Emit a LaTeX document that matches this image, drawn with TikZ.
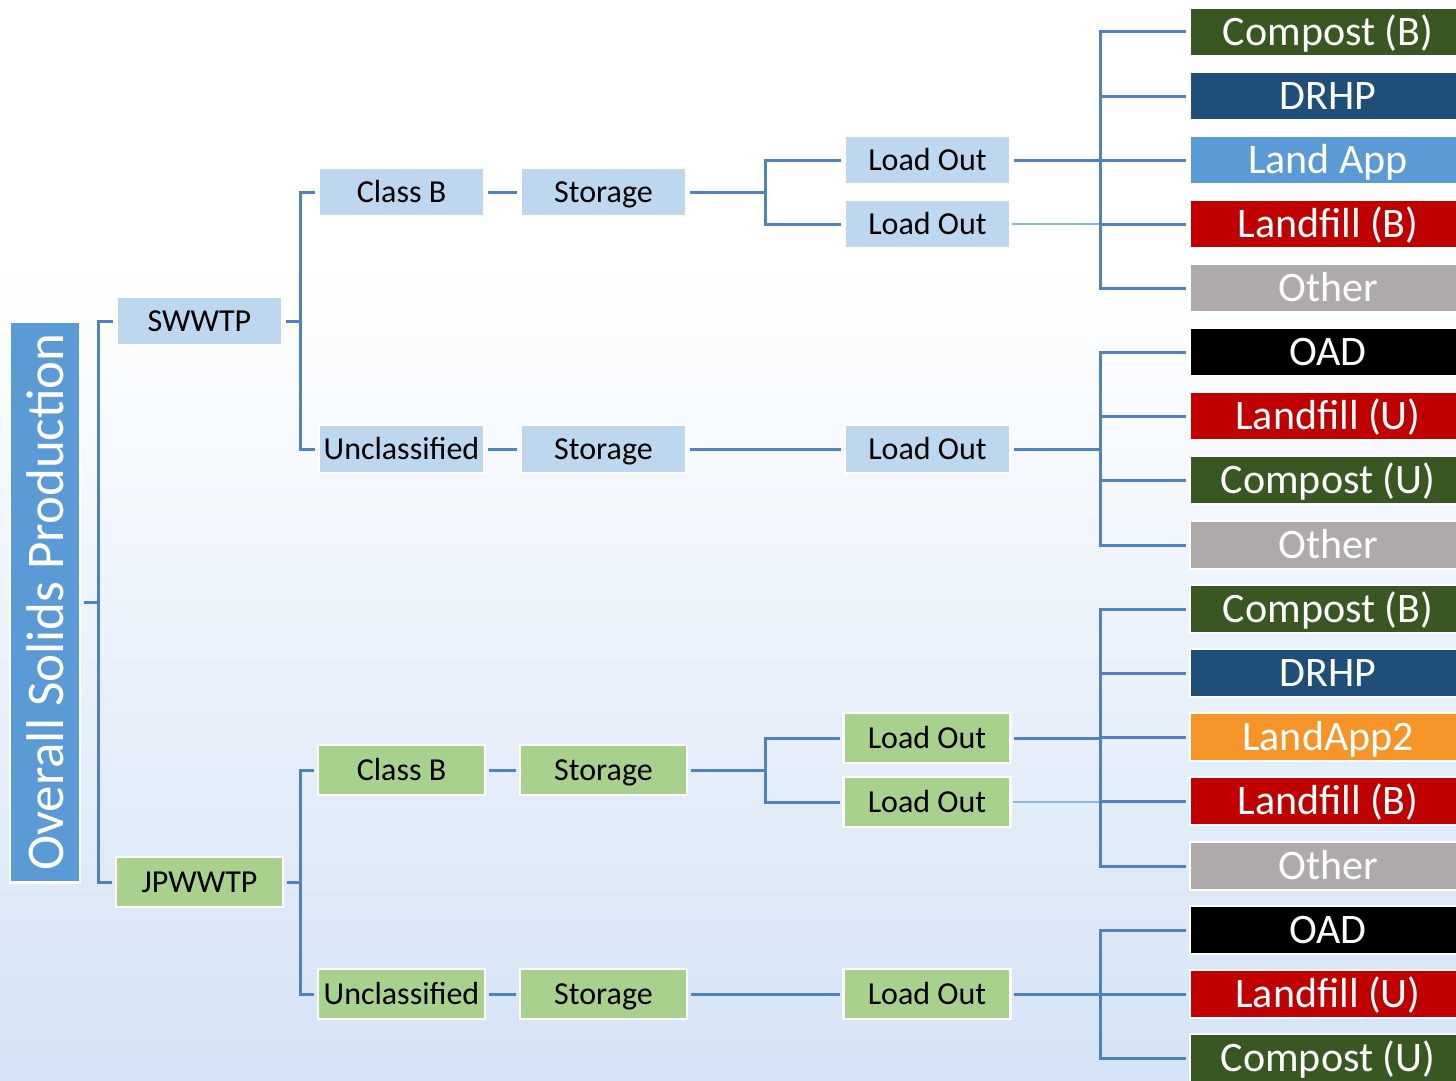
\documentclass[tikz,border=0pt]{standalone}
\usepackage{fontspec}
\setmainfont{Carlito}
\definecolor{lnc}{RGB}{79,131,192}
\definecolor{lnthin}{RGB}{141,180,226}
\definecolor{lblue}{RGB}{189,215,238}
\definecolor{lgreen}{RGB}{169,209,142}
\definecolor{ovblue}{RGB}{91,155,213}
\definecolor{cgreen}{RGB}{56,87,35}
\definecolor{drhp}{RGB}{31,78,121}
\definecolor{landapp}{RGB}{91,155,213}
\definecolor{lfred}{RGB}{192,0,0}
\definecolor{othgray}{RGB}{174,170,170}
\definecolor{orng}{RGB}{247,148,40}
\definecolor{bgb}{RGB}{212,227,246}
\tikzset{
  box/.style={draw=white, line width=2.5pt, minimum width=165pt, minimum height=48pt, inner sep=0pt, text height=20.5pt, text depth=0pt, text=black, font=\fontsize{32}{32}\selectfont},
  bb/.style={box, fill=lblue},
  gb/.style={box, fill=lgreen, minimum width=167pt, minimum height=50pt},
  rbox/.style={draw=white, line width=2.5pt, minimum width=276pt, minimum height=48pt, inner sep=0pt, text height=27pt, text depth=0pt, text=white, font=\fontsize{42}{42}\selectfont},
  conn/.style={draw=lnc, line width=3pt, shorten >=2.5pt, shorten <=2.5pt},
  connthin/.style={draw=lnthin, line width=1.3pt, shorten <=1pt},
}
\begin{document}
\begin{tikzpicture}[x=1pt,y=-1pt]
\useasboundingbox (0,0) rectangle (1456,1081);
\clip (0,0) rectangle (1456,1081);
\fill[white] (0,0) rectangle (1456,270);
\shade[top color=white, bottom color=bgb] (0,269) rectangle (1456,1081);

% left box
\node[draw=white, line width=2.5pt, fill=ovblue, minimum width=70pt, minimum height=561pt, inner sep=0pt, text=white, font=\fontsize{53}{53}\selectfont] (overall) at (45,602) {\rotatebox{90}{Overall Solids Production}};

% plants
\node[bb] (sw) at (199.5,321) {SWWTP};
\node[gb] (jp) at (199.5,882) {JPWWTP};

% SWWTP branch
\node[bb] (cb1) at (401.5,192) {Class B};
\node[bb] (st1) at (603.5,192) {Storage};
\node[bb] (lo1) at (927.5,160) {Load Out};
\node[bb] (lo2) at (927.5,224) {Load Out};
\node[bb] (un1) at (401.5,449) {Unclassified};
\node[bb] (st2) at (603.5,449) {Storage};
\node[bb] (lo3) at (927.5,449) {Load Out};

% JPWWTP branch
\node[gb] (cb2) at (401.5,770) {Class B};
\node[gb] (st3) at (603.5,770) {Storage};
\node[gb] (lo4) at (927,738) {Load Out};
\node[gb] (lo5) at (927,802) {Load Out};
\node[gb] (un2) at (401.5,994) {Unclassified};
\node[gb] (st4) at (603.5,994) {Storage};
\node[gb] (lo6) at (927,994) {Load Out};

% destinations
\node[rbox, fill=cgreen]  (r1)  at (1328,32)   {Compost (B)};
\node[rbox, fill=drhp]    (r2)  at (1328,96)   {DRHP};
\node[rbox, fill=landapp] (r3)  at (1328,160)  {Land App};
\node[rbox, fill=lfred]   (r4)  at (1328,224)  {Landfill (B)};
\node[rbox, fill=othgray] (r5)  at (1328,288)  {Other};
\node[rbox, fill=black]   (r6)  at (1328,352)  {OAD};
\node[rbox, fill=lfred]   (r7)  at (1328,416)  {Landfill (U)};
\node[rbox, fill=cgreen]  (r8)  at (1328,480)  {Compost (U)};
\node[rbox, fill=othgray] (r9)  at (1328,545)  {Other};
\node[rbox, fill=cgreen]  (r10) at (1328,609)  {Compost (B)};
\node[rbox, fill=drhp]    (r11) at (1328,673)  {DRHP};
\node[rbox, fill=orng]    (r12) at (1328,737)  {LandApp2};
\node[rbox, fill=lfred]   (r13) at (1328,801)  {Landfill (B)};
\node[rbox, fill=othgray] (r14) at (1328,866)  {Other};
\node[rbox, fill=black]   (r15) at (1328,930)  {OAD};
\node[rbox, fill=lfred]   (r16) at (1328,994)  {Landfill (U)};
\node[rbox, fill=cgreen]  (r17) at (1328,1058) {Compost (U)};

% junction coordinates
\coordinate (j0) at (98,602);
\coordinate (j1) at (300,321);
\coordinate (j2) at (300,882);
\coordinate (j3) at (765,192);
\coordinate (j4) at (765,770);
\coordinate (t1) at (1100,160);
\coordinate (t2) at (1100,449);
\coordinate (t3) at (1100,738);
\coordinate (t4) at (1100,994);
\coordinate (t1b) at (1100,224);
\coordinate (t3b) at (1100,802);

% connectors
\draw[conn, shorten >=0pt] (overall.east) -- (j0);
\draw[conn, shorten <=0pt] (j0) |- (sw.west);
\draw[conn, shorten <=0pt] (j0) |- (jp.west);

\draw[conn, shorten >=0pt] (sw.east) -- (j1);
\draw[conn, shorten <=0pt] (j1) |- (cb1.west);
\draw[conn, shorten <=0pt] (j1) |- (un1.west);
\draw[conn, shorten >=0pt] (jp.east) -- (j2);
\draw[conn, shorten <=0pt] (j2) |- (cb2.west);
\draw[conn, shorten <=0pt] (j2) |- (un2.west);

\draw[conn] (cb1.east) -- (st1.west);
\draw[conn] (un1.east) -- (st2.west);
\draw[conn] (cb2.east) -- (st3.west);
\draw[conn] (un2.east) -- (st4.west);

\draw[conn, shorten >=0pt] (st1.east) -- (j3);
\draw[conn, shorten <=0pt] (j3) |- (lo1.west);
\draw[conn, shorten <=0pt] (j3) |- (lo2.west);
\draw[conn, shorten >=0pt] (st3.east) -- (j4);
\draw[conn, shorten <=0pt] (j4) |- (lo4.west);
\draw[conn, shorten <=0pt] (j4) |- (lo5.west);
\draw[conn] (st2.east) -- (lo3.west);
\draw[conn] (st4.east) -- (lo6.west);

\draw[conn, shorten >=0pt] (lo1.east) -- (t1);
\draw[connthin] (lo2.east) -- (t1b);
\draw[conn, shorten >=0pt] (lo3.east) -- (t2);
\draw[conn, shorten >=0pt] (lo4.east) -- (t3);
\draw[connthin] (lo5.east) -- (t3b);
\draw[conn, shorten >=0pt] (lo6.east) -- (t4);

\foreach \r in {r1,r2,r3,r4,r5} \draw[conn, shorten <=0pt] (t1) |- (\r.west);
\foreach \r in {r6,r7,r8,r9} \draw[conn, shorten <=0pt] (t2) |- (\r.west);
\foreach \r in {r10,r11,r12,r13,r14} \draw[conn, shorten <=0pt] (t3) |- (\r.west);
\foreach \r in {r15,r16,r17} \draw[conn, shorten <=0pt] (t4) |- (\r.west);
\end{tikzpicture}
\end{document}
